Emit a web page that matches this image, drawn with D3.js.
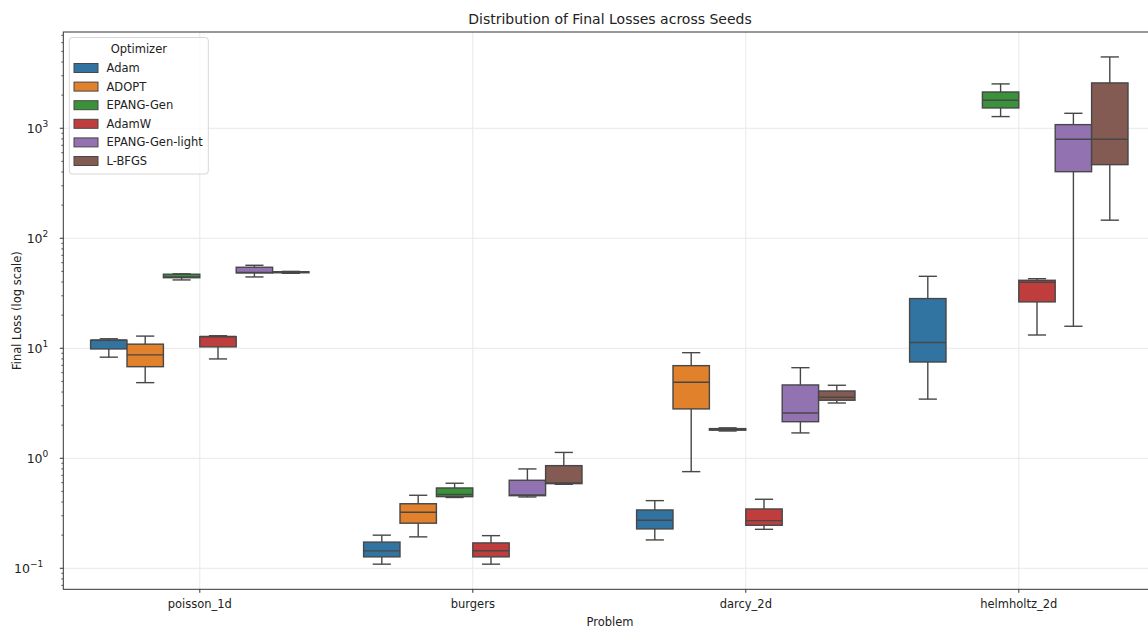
<!DOCTYPE html>
<html>
<head>
<meta charset="utf-8">
<script src="https://cdn.jsdelivr.net/npm/d3@7"></script>
<style>
  body { margin: 0; background: #fff; }
  svg { font-family: "DejaVu Sans", sans-serif; }
</style>
</head>
<body>
<div id="chart"></div>
<script>
/* ---- data ---- */
const problems = ["poisson_1d", "burgers", "darcy_2d", "helmholtz_2d"]
const optimizers = ["Adam", "ADOPT", "EPANG-Gen", "AdamW", "EPANG-Gen-light", "L-BFGS"]
const colors = ["#3274a1", "#e1812c", "#3a923a", "#c03d3e", "#9372b2", "#845b53"]

// [whisker low, q1, median, q3, whisker high] per problem
const adamStats = [[8.3, 9.86, 11.9, 11.8, 12.2], [0.109, 0.127, 0.144, 0.173, 0.2], [0.181, 0.228, 0.273, 0.339, 0.412], [3.45, 7.5, 11.3, 28.3, 45.1]]
const adoptStats = [[4.87, 6.8, 8.7, 10.9, 12.9], [0.193, 0.257, 0.323, 0.386, 0.461], [0.756, 2.81, 4.91, 6.95, 9.12], null]
const epangStats = [[41.8, 43.8, 44.6, 47.1, 47.5], [0.44, 0.448, 0.469, 0.537, 0.593], [1.77, 1.8, 1.83, 1.86, 1.89], [1277, 1530, 1798, 2137, 2530]]
const adamwStats = [[8.0, 10.3, 12.8, 12.75, 13.0], [0.109, 0.127, 0.1445, 0.17, 0.198], [0.226, 0.246, 0.271, 0.346, 0.424], [13.2, 26.4, 39.8, 41.5, 42.9]]
const lightStats = [[44.5, 48.4, 48.9, 54.5, 56.8], [0.445, 0.457, 0.464, 0.631, 0.8], [1.7, 2.15, 2.58, 4.64, 6.66], [15.85, 403, 795, 1079, 1368]]
const lbfgsStats = [[48.0, 48.7, 49.1, 49.6, 50.0], [0.58, 0.588, 0.596, 0.857, 1.13], [3.18, 3.37, 3.59, 4.09, 4.61], [146, 467, 795, 2583, 4450]]
const allStats = [adamStats, adoptStats, epangStats, adamwStats, lightStats, lbfgsStats]

const yDomain = [0.0644, 7500]
const yTicks = [0.1, 1, 10, 100, 1000]
const yTickExp = ["\u22121", "0", "1", "2", "3"]

/* ---- layout ---- */
const w = 1148
const h = 628
const plotLeft = 63.3
const plotTop = 32
const plotBottom = 589.3
const step = 273
const lineColor = "#474747"

const svg = d3.select("#chart").append("svg")
    .attr("width", w)
    .attr("height", h)

const x = d3.scaleBand()
    .domain(problems)
    .range([plotLeft, plotLeft + step * problems.length])
    .padding(0)

const xHue = d3.scaleBand()
    .domain(optimizers)
    .range([0, x.bandwidth() * 0.8])
    .padding(0)

const y = d3.scaleLog()
    .domain(yDomain)
    .range([plotBottom, plotTop])

/* ---- grid ---- */
const grid = svg.append("g")
grid.selectAll(".gy")
    .data(yTicks)
    .enter()
    .append("line")
    .attr("x1", plotLeft).attr("x2", w)
    .attr("y1", d => y(d)).attr("y2", d => y(d))
    .attr("stroke", "#e8e8e8")
    .attr("stroke-width", 1)
grid.selectAll(".gx")
    .data(problems)
    .enter()
    .append("line")
    .attr("x1", d => x(d) + x.bandwidth() / 2).attr("x2", d => x(d) + x.bandwidth() / 2)
    .attr("y1", plotTop).attr("y2", plotBottom)
    .attr("stroke", "#e8e8e8")
    .attr("stroke-width", 1)

/* ---- boxes ---- */
const boxes = []
optimizers.forEach(function (opt, i) {
  problems.forEach(function (p, j) {
    const s = allStats[i][j]
    if (s) boxes.push({ opt: opt, color: colors[i], problem: p, s: s })
  })
})

const bw = xHue.bandwidth()
const g = svg.selectAll(".box")
    .data(boxes)
    .enter()
    .append("g")
    .attr("transform", d => "translate(" + (x(d.problem) + x.bandwidth() * 0.1 + xHue(d.opt)) + ",0)")

// whiskers
g.append("line")
    .attr("x1", bw / 2).attr("x2", bw / 2)
    .attr("y1", d => y(d.s[0])).attr("y2", d => y(d.s[1]))
    .attr("stroke", lineColor).attr("stroke-width", 1.4)
g.append("line")
    .attr("x1", bw / 2).attr("x2", bw / 2)
    .attr("y1", d => y(d.s[3])).attr("y2", d => y(d.s[4]))
    .attr("stroke", lineColor).attr("stroke-width", 1.4)
// caps
g.selectAll(".cap")
    .data(d => [d.s[0], d.s[4]])
    .enter()
    .append("line")
    .attr("x1", bw / 4).attr("x2", bw * 3 / 4)
    .attr("y1", d => y(d)).attr("y2", d => y(d))
    .attr("stroke", lineColor).attr("stroke-width", 1.4)
// box
g.append("rect")
    .attr("x", 0)
    .attr("width", bw)
    .attr("y", d => y(d.s[3]))
    .attr("height", d => Math.max(1, y(d.s[1]) - y(d.s[3])))
    .attr("fill", d => d.color)
    .attr("stroke", lineColor)
    .attr("stroke-width", 1.4)
// median
g.append("line")
    .attr("x1", 0).attr("x2", bw)
    .attr("y1", d => y(d.s[2])).attr("y2", d => y(d.s[2]))
    .attr("stroke", lineColor).attr("stroke-width", 1.4)

/* ---- axes ---- */
const yAxis = svg.append("g")
// minor ticks
const minor = []
for (let e = -2; e <= 3; e++) {
  for (let k = 2; k <= 9; k++) {
    const v = k * Math.pow(10, e)
    if (v >= yDomain[0] && v <= yDomain[1]) minor.push(v)
  }
}
yAxis.selectAll(".minor")
    .data(minor)
    .enter()
    .append("line")
    .attr("x1", plotLeft - 2).attr("x2", plotLeft)
    .attr("y1", d => y(d)).attr("y2", d => y(d))
    .attr("stroke", "#333").attr("stroke-width", 0.8)
yAxis.selectAll(".major")
    .data(yTicks)
    .enter()
    .append("line")
    .attr("x1", plotLeft - 3.5).attr("x2", plotLeft)
    .attr("y1", d => y(d)).attr("y2", d => y(d))
    .attr("stroke", "#333").attr("stroke-width", 1)
const lab = yAxis.selectAll(".lab")
    .data(yTicks)
    .enter()
    .append("text")
    .attr("x", d => d < 1 ? plotLeft - 20 : plotLeft - 15)
    .attr("y", d => y(d) + 4.5)
    .attr("text-anchor", "end")
    .attr("font-size", "12.5px")
    .attr("fill", "#222")
    .text("10")
lab.append("tspan")
    .attr("dy", -5.5)
    .attr("font-size", "9px")
    .text((d, i) => yTickExp[i])

svg.selectAll(".xt")
    .data(problems)
    .enter()
    .append("line")
    .attr("x1", d => x(d) + x.bandwidth() / 2).attr("x2", d => x(d) + x.bandwidth() / 2)
    .attr("y1", plotBottom).attr("y2", plotBottom + 3.5)
    .attr("stroke", "#333")
svg.selectAll(".xl")
    .data(problems)
    .enter()
    .append("text")
    .attr("x", d => x(d) + x.bandwidth() / 2)
    .attr("y", plotBottom + 19)
    .attr("text-anchor", "middle")
    .attr("font-size", "11.5px")
    .attr("fill", "#222")
    .text(d => d)

// frame
svg.append("rect")
    .attr("x", plotLeft).attr("y", plotTop)
    .attr("width", step * problems.length).attr("height", plotBottom - plotTop)
    .attr("fill", "none")
    .attr("stroke", "#333")
    .attr("stroke-width", 1)

/* ---- titles ---- */
svg.append("text")
    .attr("x", 610).attr("y", 24)
    .attr("text-anchor", "middle")
    .attr("font-size", "14px")
    .attr("fill", "#222")
    .text("Distribution of Final Losses across Seeds")
svg.append("text")
    .attr("x", 610).attr("y", 626)
    .attr("text-anchor", "middle")
    .attr("font-size", "11.5px")
    .attr("fill", "#222")
    .text("Problem")
svg.append("text")
    .attr("transform", "translate(21," + ((plotTop + plotBottom) / 2) + ") rotate(-90)")
    .attr("text-anchor", "middle")
    .attr("font-size", "11.5px")
    .attr("fill", "#222")
    .text("Final Loss (log scale)")

/* ---- legend ---- */
const leg = svg.append("g")
leg.append("rect")
    .attr("x", 69.3).attr("y", 37.5)
    .attr("width", 139).attr("height", 136.5)
    .attr("rx", 3)
    .attr("fill", "#fff").attr("fill-opacity", 0.8)
    .attr("stroke", "#d6d6d6")
leg.append("text")
    .attr("x", 138.8).attr("y", 53)
    .attr("text-anchor", "middle")
    .attr("font-size", "11.5px")
    .attr("fill", "#222")
    .text("Optimizer")
const items = leg.selectAll(".it")
    .data(optimizers)
    .enter()
    .append("g")
    .attr("transform", (d, i) => "translate(0," + (68 + i * 18.6) + ")")
items.append("rect")
    .attr("x", 74).attr("y", -4.5)
    .attr("width", 24).attr("height", 9)
    .attr("fill", (d, i) => colors[i])
    .attr("stroke", lineColor).attr("stroke-width", 1)
items.append("text")
    .attr("x", 106.5).attr("y", 4)
    .attr("font-size", "11.5px")
    .attr("fill", "#222")
    .text(d => d)
</script>
</body>
</html>
